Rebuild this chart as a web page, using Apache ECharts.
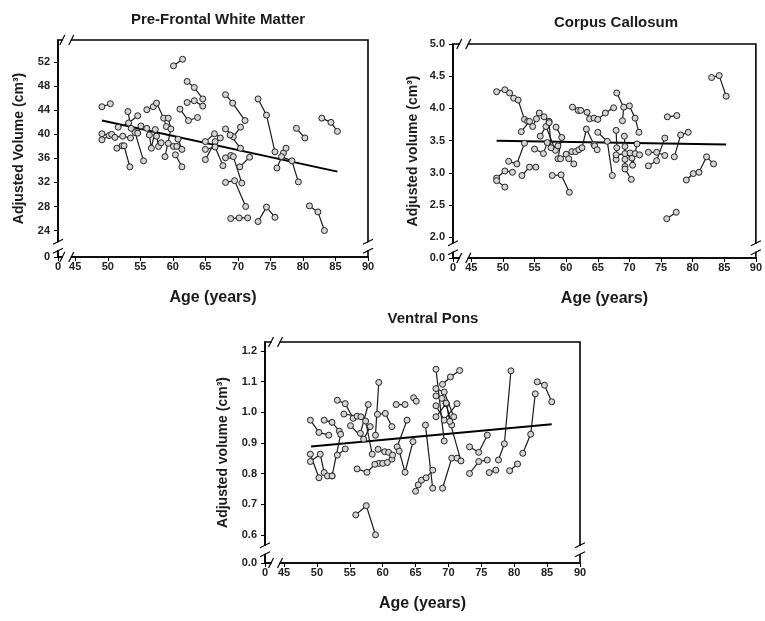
<!DOCTYPE html>
<html>
<head>
<meta charset="utf-8">
<script src="https://cdn.jsdelivr.net/npm/echarts@6.0.0/dist/echarts.min.js"></script>
<style>
  html, body { margin: 0; padding: 0; background: #fff; }
  #chart { width: 765px; height: 621px; }
</style>
</head>
<body>
<div id="chart"></div>
<script>
  // each subject: repeated scans [age, adjusted volume]
  const pfwmSubjects = [
    [[49.1, 44.6], [50.4, 45.1]],
    [[49.1, 40.1], [50.2, 39.8]],
    [[49.1, 39.1], [50.6, 40.0]],
    [[51.1, 39.5], [52.3, 39.7], [53.5, 39.4]],
    [[51.6, 41.2], [53.2, 41.9], [54.6, 43.1]],
    [[53.1, 43.8], [53.6, 41.0]],
    [[51.4, 37.7], [52.2, 38.1]],
    [[52.5, 38.1], [53.4, 34.6]],
    [[54.2, 40.3], [55.5, 35.6]],
    [[54.6, 40.2], [55.1, 41.4], [56.0, 41.0]],
    [[56.0, 44.1], [57.0, 44.6]],
    [[57.5, 45.2], [58.6, 42.7], [59.0, 41.3]],
    [[56.4, 39.9], [56.7, 37.7], [57.3, 40.8]],
    [[57.5, 39.7], [57.8, 38.0], [58.2, 38.6]],
    [[59.3, 42.7], [59.7, 40.9], [58.8, 36.3]],
    [[59.3, 38.5], [60.1, 38.0], [60.6, 38.0]],
    [[60.4, 36.6], [61.4, 34.6]],
    [[60.8, 39.2], [61.4, 37.5]],
    [[60.1, 51.4], [61.5, 52.5]],
    [[62.2, 48.8], [63.3, 47.8], [64.6, 45.9]],
    [[62.2, 45.3], [63.3, 45.6], [64.6, 44.7]],
    [[61.1, 44.2], [62.4, 42.3], [63.8, 42.8]],
    [[65.0, 38.8], [66.4, 40.1], [67.3, 39.4]],
    [[65.0, 35.8], [66.5, 38.8]],
    [[65.0, 37.5], [66.5, 37.9], [67.7, 34.8]],
    [[68.1, 46.6], [69.2, 45.2], [71.1, 42.3]],
    [[68.1, 40.9], [69.3, 39.6], [70.4, 41.2]],
    [[68.8, 39.9], [70.4, 37.7]],
    [[68.1, 36.1], [68.9, 36.5]],
    [[69.3, 36.3], [70.6, 31.9]],
    [[70.3, 34.6], [71.8, 36.2]],
    [[68.1, 32.0], [69.5, 32.3], [71.2, 28.0]],
    [[68.9, 26.0], [70.2, 26.1], [71.5, 26.1]],
    [[73.1, 45.9], [74.4, 43.2], [75.7, 37.1]],
    [[73.1, 25.5], [74.4, 27.9], [75.7, 26.2]],
    [[76.0, 34.4], [77.0, 36.9], [77.4, 37.7]],
    [[76.7, 36.3], [78.3, 35.6], [79.3, 32.1]],
    [[79.0, 41.0], [80.3, 39.4]],
    [[81.0, 28.1], [82.3, 27.1], [83.3, 24.0]],
    [[82.9, 42.7], [84.3, 42.0], [85.3, 40.5]],
  ];
  const pfwmFit = [[49.1, 42.3], [85.3, 33.8]];

  const ccSubjects = [
    [[49.0, 4.26], [50.3, 4.29], [51.05, 4.24]],
    [[51.7, 4.16], [52.4, 4.13], [53.4, 3.83]],
    [[53.9, 3.80], [54.7, 3.72], [55.3, 3.84]],
    [[52.9, 3.64], [54.2, 3.80]],
    [[50.9, 3.18], [52.2, 3.14], [53.4, 3.46]],
    [[49.0, 2.92], [50.3, 3.03], [51.5, 3.01]],
    [[49.0, 2.88], [50.3, 2.78]],
    [[53.0, 2.96], [54.2, 3.09], [55.2, 3.09]],
    [[55.0, 3.37], [56.4, 3.30], [57.0, 3.47]],
    [[55.75, 3.93], [56.5, 3.87], [57.3, 3.80]],
    [[55.9, 3.57], [56.8, 3.72], [58.3, 3.35]],
    [[57.3, 3.78], [57.6, 3.39], [58.7, 3.42]],
    [[58.4, 3.71], [59.3, 3.55], [58.7, 3.22]],
    [[57.8, 2.96], [59.2, 2.97], [60.5, 2.70]],
    [[59.1, 3.22], [60.0, 3.29]],
    [[60.4, 3.22], [61.2, 3.14]],
    [[60.9, 3.33], [61.5, 3.33], [62.0, 3.36]],
    [[62.5, 3.39], [63.2, 3.68], [64.4, 3.44]],
    [[64.5, 3.42], [64.9, 3.36]],
    [[65.0, 3.63], [66.5, 3.49], [67.3, 2.96]],
    [[61.0, 4.02], [61.9, 3.97], [62.3, 3.97]],
    [[63.3, 3.94], [63.7, 3.84], [64.4, 3.85]],
    [[65.0, 3.83], [66.2, 3.93], [67.5, 4.01]],
    [[68.0, 4.24], [69.1, 4.02], [68.9, 3.81]],
    [[70.0, 4.04], [70.9, 3.85], [71.5, 3.63]],
    [[67.9, 3.66], [68.0, 3.39], [67.9, 3.21]],
    [[67.9, 3.28], [69.3, 3.30], [70.4, 3.23]],
    [[69.2, 3.57], [69.3, 3.41], [69.3, 3.10]],
    [[69.3, 3.21], [69.3, 3.06], [70.3, 2.90]],
    [[70.1, 3.31], [70.5, 3.12], [71.2, 3.45]],
    [[70.9, 3.30], [71.6, 3.28]],
    [[73.0, 3.32], [74.3, 3.32], [75.6, 3.27]],
    [[73.0, 3.11], [74.3, 3.19], [75.6, 3.54]],
    [[76.0, 3.87], [77.5, 3.89]],
    [[77.1, 3.25], [78.1, 3.59], [79.3, 3.63]],
    [[75.9, 2.29], [77.4, 2.39]],
    [[79.0, 2.89], [80.1, 2.99]],
    [[81.0, 3.01], [82.2, 3.25], [83.3, 3.14]],
    [[83.0, 4.48], [84.2, 4.51], [85.3, 4.19]],
  ];
  const ccFit = [[49.0, 3.50], [85.3, 3.44]];

  const vpSubjects = [
    [[49.0, 0.974], [50.3, 0.934], [51.8, 0.925]],
    [[51.1, 0.974], [52.3, 0.967], [53.4, 0.938]],
    [[52.3, 0.792], [53.6, 0.928]],
    [[53.1, 0.860], [54.3, 0.880]],
    [[49.0, 0.863], [50.3, 0.786]],
    [[49.0, 0.839], [50.5, 0.863], [51.1, 0.803]],
    [[51.6, 0.792], [52.3, 0.792]],
    [[53.1, 1.039], [54.3, 1.028], [55.5, 0.980]],
    [[54.1, 0.994], [56.1, 0.987], [56.7, 0.985]],
    [[55.1, 0.956], [57.1, 0.912], [58.1, 0.953]],
    [[56.6, 0.931], [57.8, 1.025]],
    [[57.4, 0.971], [58.4, 0.863]],
    [[58.9, 0.925], [59.4, 1.097]],
    [[59.2, 0.993], [60.4, 0.996], [61.4, 0.953]],
    [[59.3, 0.879], [60.3, 0.871], [60.9, 0.869]],
    [[61.4, 0.847], [61.5, 0.860]],
    [[62.2, 0.887], [63.7, 0.974]],
    [[59.4, 0.833], [60.0, 0.833], [60.7, 0.836]],
    [[56.1, 0.815], [57.6, 0.804], [58.8, 0.830]],
    [[62.05, 1.025], [63.4, 1.025]],
    [[64.7, 1.047], [65.1, 1.036]],
    [[66.5, 0.958], [67.6, 0.752]],
    [[62.5, 0.873], [63.4, 0.804], [64.6, 0.904]],
    [[65.0, 0.742], [65.4, 0.763], [65.9, 0.778]],
    [[66.6, 0.786], [67.6, 0.811]],
    [[55.9, 0.665], [57.5, 0.695], [58.9, 0.600]],
    [[68.1, 1.140], [69.35, 0.906]],
    [[69.1, 1.091], [70.3, 1.115], [71.7, 1.136]],
    [[68.1, 1.077], [69.35, 1.066], [70.8, 0.985]],
    [[68.1, 1.053], [69.0, 1.045], [69.65, 1.028]],
    [[68.1, 1.021], [69.35, 0.974], [71.3, 1.028]],
    [[68.1, 0.985], [69.65, 1.028], [70.5, 0.958]],
    [[69.1, 0.752], [70.5, 0.850], [71.3, 0.850]],
    [[69.65, 1.030], [70.2, 0.970], [71.9, 0.841]],
    [[73.2, 0.887], [74.6, 0.869], [75.9, 0.925]],
    [[73.2, 0.800], [74.6, 0.839], [75.9, 0.844]],
    [[76.2, 0.803], [77.2, 0.811]],
    [[77.6, 0.844], [78.5, 0.897], [79.5, 1.135]],
    [[79.3, 0.809], [80.5, 0.831]],
    [[81.3, 0.866], [82.5, 0.928], [83.2, 1.060]],
    [[83.5, 1.099], [84.6, 1.088], [85.7, 1.034]],
  ];
  const vpFit = [[49.1, 0.888], [85.7, 0.961]];

  // tick labels (the axis minimum is shown as 0 behind the break)
  const xTicks = [45, 50, 55, 60, 65, 70, 75, 80, 85, 90];
  const pfwmTicks = [24, 28, 32, 36, 40, 44, 48, 52];
  const ccTicks = [2.0, 2.5, 3.0, 3.5, 4.0, 4.5, 5.0];
  const vpTicks = [0.6, 0.7, 0.8, 0.9, 1.0, 1.1, 1.2];

  const panels = [
    {
      title: 'Pre-Frontal White Matter', yName: 'Adjusted Volume (cm³)',
      subjects: pfwmSubjects, fit: pfwmFit, yTicks: pfwmTicks, digits: 0,
      xMin: 42.35, yMin: 19.6, yMax: 55.7, xBreak: 43.7, yBreak: 21.4,
      grid: { left: 58, top: 40, width: 310, height: 217 },
      titlePos: [213, 7], yGap: 32,
    },
    {
      title: 'Corpus Callosum', yName: 'Adjusted volume (cm³)',
      subjects: ccSubjects, fit: ccFit, yTicks: ccTicks, digits: 1,
      xMin: 42.1, yMin: 1.68, yMax: 5.0, xBreak: 43.8, yBreak: 1.84,
      grid: { left: 453, top: 44, width: 305, height: 214 },
      titlePos: [611, 10], yGap: 33,
    },
    {
      title: 'Ventral Pons', yName: 'Adjusted volume (cm³)',
      subjects: vpSubjects, fit: vpFit, yTicks: vpTicks, digits: 1,
      xMin: 42.1, yMin: 0.508, yMax: 1.229, xBreak: 43.7, yBreak: 0.551,
      grid: { left: 265, top: 342, width: 315, height: 221 },
      titlePos: [428, 306], yGap: 35,
    },
  ];

  const font = '"Liberation Sans", Arial, sans-serif';
  const ink = '#1a1a1a';

  const chart = echarts.init(document.getElementById('chart'));

  const series = [];
  panels.forEach((p, i) => {
    p.subjects.forEach((s) => {
      series.push({
        type: 'line',
        xAxisIndex: i,
        yAxisIndex: i,
        data: s,
        symbol: 'circle',
        symbolSize: 6,
        itemStyle: { color: '#d4d4d4', borderColor: '#222', borderWidth: 1 },
        lineStyle: { color: ink, width: 1.2 },
        emphasis: { disabled: true },
        z: 3,
      });
    });
    // regression line
    series.push({
      type: 'line',
      xAxisIndex: i,
      yAxisIndex: i,
      data: p.fit,
      symbol: 'none',
      lineStyle: { color: '#000', width: 2 },
      emphasis: { disabled: true },
      z: 2,
    });
  });

  const labelStyle = { fontSize: 11, fontWeight: 'bold', color: '#222', fontFamily: font };

  const option = {
    animation: false,
    backgroundColor: '#fff',
    title: panels.map((p) => ({
      text: p.title,
      left: p.titlePos[0],
      top: p.titlePos[1],
      textAlign: 'center',
      textStyle: { fontSize: 15, fontWeight: 'bold', color: ink, fontFamily: font },
    })),
    grid: panels.map((p) => ({
      ...p.grid,
      show: true,
      borderColor: '#000',
      borderWidth: 1.6,
    })),
    xAxis: panels.map((p, i) => {
      const vals = [p.xMin].concat(xTicks);
      return {
        type: 'value',
        gridIndex: i,
        min: p.xMin,
        max: 90,
        name: 'Age (years)',
        nameLocation: 'middle',
        nameGap: 33,
        nameTextStyle: { fontSize: 16, fontWeight: 'bold', color: ink, fontFamily: font },
        axisLine: { lineStyle: { color: '#000', width: 1.6 } },
        axisTick: { customValues: vals, length: 4, lineStyle: { color: '#000', width: 1 } },
        axisLabel: {
          ...labelStyle,
          customValues: vals,
          margin: 4,
          formatter: (v) => (Math.abs(v - p.xMin) < 1e-6 ? '0' : String(v)),
        },
        splitLine: { show: false },
      };
    }),
    yAxis: panels.map((p, i) => {
      const vals = [p.yMin].concat(p.yTicks);
      return {
        type: 'value',
        gridIndex: i,
        min: p.yMin,
        max: p.yMax,
        name: p.yName,
        nameLocation: 'middle',
        nameGap: p.yGap,
        nameTextStyle: { fontSize: 14, fontWeight: 'bold', color: ink, fontFamily: font },
        axisLine: { show: true, lineStyle: { color: '#000', width: 1.6 } },
        axisTick: { show: true, customValues: vals, length: 4, lineStyle: { color: '#000', width: 1 } },
        axisLabel: {
          ...labelStyle,
          customValues: vals,
          margin: 8,
          formatter: (v) => (Math.abs(v - p.yMin) < 1e-6 ? (0).toFixed(p.digits) : v.toFixed(p.digits)),
        },
        splitLine: { show: false },
      };
    }),
    series: series,
  };
  chart.setOption(option);

  // axis break marks "//" on both axes and on the frame
  const marks = [];
  const slash = (x1, y1, x2, y2) => ({
    type: 'line', silent: true, z: 100,
    shape: { x1, y1, x2, y2 },
    style: { stroke: '#000', lineWidth: 1.2 },
  });
  const cover = (x, y, w, h) => ({
    type: 'rect', silent: true, z: 99,
    shape: { x, y, width: w, height: h },
    style: { fill: '#fff' },
  });
  panels.forEach((p, i) => {
    const bottom = chart.convertToPixel({ gridIndex: i }, [p.xBreak, p.yMin]);
    const top = chart.convertToPixel({ gridIndex: i }, [p.xBreak, p.yMax]);
    const left = chart.convertToPixel({ gridIndex: i }, [p.xMin, p.yBreak]);
    const right = chart.convertToPixel({ gridIndex: i }, [90, p.yBreak]);
    [bottom, top].forEach(([x, y]) => {
      marks.push(cover(x - 4, y - 3, 8, 6));
      marks.push(slash(x - 7, y + 5, x - 2, y - 5));
      marks.push(slash(x + 2, y + 5, x + 7, y - 5));
    });
    [left, right].forEach(([x, y]) => {
      marks.push(cover(x - 3, y - 4, 6, 8));
      marks.push(slash(x - 5, y - 2, x + 5, y - 7));
      marks.push(slash(x - 5, y + 7, x + 5, y + 2));
    });
  });
  chart.setOption({ graphic: marks });
</script>
</body>
</html>
